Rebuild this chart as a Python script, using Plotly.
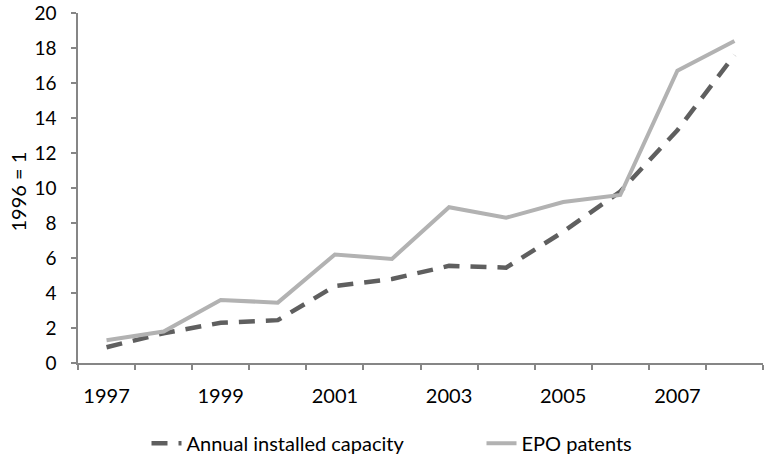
import plotly.graph_objects as go

years = [1997, 1998, 1999, 2000, 2001, 2002, 2003, 2004, 2005, 2006, 2007, 2008]
capacity = [0.9, 1.7, 2.3, 2.45, 4.4, 4.8, 5.55, 5.45, 7.5, 9.8, 13.3, 17.6]
epo = [1.3, 1.8, 3.6, 3.45, 6.2, 5.95, 8.9, 8.3, 9.2, 9.6, 16.7, 18.4]
x_labels = [1997, 1999, 2001, 2003, 2005, 2007]

font = "Lato, 'Liberation Sans', sans-serif"
axis_col = "#868686"

fig = go.Figure()
fig.add_trace(go.Scatter(
    x=years, y=capacity, mode="lines", name="Annual installed capacity",
    line=dict(color="#5f5f5f", width=4.5, dash="16px,11px"),
))
fig.add_trace(go.Scatter(
    x=years, y=epo, mode="lines", name="EPO patents",
    line=dict(color="#b2b2b2", width=4),
))

fig.update_layout(
    width=764, height=455,
    margin=dict(l=78, r=1, t=13, b=92, autoexpand=False),
    paper_bgcolor="white", plot_bgcolor="white",
    font=dict(family=font, size=20, color="#000000"),
    showlegend=True,
    legend=dict(orientation="h", x=0.1, xanchor="left", y=-0.229, yanchor="middle",
                font=dict(size=20), entrywidth=290, entrywidthmode="pixels"),
    xaxis=dict(
        range=[1996.5, 2008.5], tickvals=x_labels, ticktext=[str(v) for v in x_labels],
        showgrid=False, zeroline=False, showline=True, linecolor=axis_col, linewidth=1.5,
        ticks="", ticklabelstandoff=14, automargin=False, ticklabeloverflow="allow",
        minor=dict(tick0=1996.5, dtick=1, ticks="outside", ticklen=5, tickcolor=axis_col, tickwidth=1.5),
    ),
    yaxis=dict(
        range=[0, 20], dtick=2, showgrid=False, zeroline=False,
        showline=True, linecolor=axis_col, linewidth=1.5,
        ticks="outside", ticklen=5, tickcolor=axis_col, tickwidth=1.5,
        ticklabelstandoff=11, automargin=False, ticklabeloverflow="allow",
        tickfont=dict(size=19),
    ),
    annotations=[dict(
        text="1996 = 1", xref="paper", yref="paper", x=-0.089, y=0.49,
        xanchor="center", yanchor="middle", textangle=-90, showarrow=False,
        font=dict(size=20, family=font),
    )],
)

fig.write_html("out.html", config={"displayModeBar": False},
               post_script="document.body.style.margin='0';")
